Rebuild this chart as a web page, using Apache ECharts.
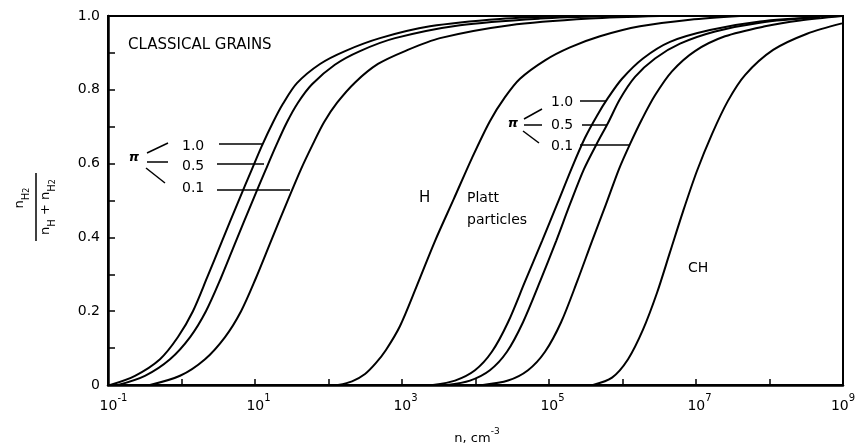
<!DOCTYPE html>
<html><head><meta charset="utf-8">
<script src="https://cdn.jsdelivr.net/npm/echarts@6/dist/echarts.min.js"></script>
<style>html,body{margin:0;padding:0;background:#fff}#c{width:855px;height:446px}</style>
</head><body><div id="c"></div>
<script>
const FONT = 'DejaVu Sans';
// x: density n (cm^-3), y: n_H2 / (n_H + n_H2)
const classicalPi10 = [[0.107,0],[0.233,0.025],[0.51,0.07],[0.895,0.13],[1.43,0.20],[2.22,0.29],[3.56,0.39],[5.87,0.495],[9.1,0.585],[12.4,0.648],[17.6,0.712],[24.0,0.762],[37.2,0.818],[76.6,0.87],[168,0.905],[502,0.94],[2400,0.972],[21500,0.992],[193000,1]];
const classicalPi05 = [[0.137,0],[0.318,0.025],[0.698,0.07],[1.31,0.13],[2.15,0.20],[3.44,0.29],[5.51,0.39],[9.1,0.495],[14.1,0.585],[19.3,0.648],[27.2,0.712],[38.4,0.765],[59.7,0.815],[122,0.868],[268,0.905],[804,0.94],[6150,0.975],[75400,0.993],[676000,1]];
const classicalPi01 = [[0.372,0],[0.955,0.025],[2.09,0.07],[3.91,0.13],[6.46,0.20],[10.3,0.29],[16.5,0.39],[27.2,0.495],[42.3,0.585],[59.7,0.648],[86.9,0.712],[131,0.765],[230,0.82],[471,0.87],[1100,0.905],[3290,0.94],[29400,0.975],[361000,0.993],[3.24e6,1]];
const hCurve = [[135,0],[209,0.01],[314,0.03],[443,0.06],[605,0.095],[940,0.16],[1600,0.27],[2810,0.39],[5090,0.505],[8950,0.615],[15700,0.715],[25200,0.78],[40300,0.83],[88300,0.88],[193000,0.915],[494000,0.945],[1.73e6,0.972],[8.28e6,0.99],[3.97e7,1]];
const plattPi10 = [[2640,0],[5260,0.012],[9840,0.04],[16700,0.09],[27700,0.17],[47100,0.28],[80300,0.39],[129000,0.49],[206000,0.59],[309000,0.67],[450000,0.73],[635000,0.778],[985000,0.83],[1.90e6,0.885],[4.43e6,0.93],[1.55e7,0.962],[7.43e7,0.985],[4.86e8,0.997]];
const plattPi05 = [[4090,0],[8410,0.012],[15700,0.04],[26800,0.09],[44300,0.17],[75400,0.28],[125000,0.39],[193000,0.49],[299000,0.585],[450000,0.655],[635000,0.71],[925000,0.775],[1.48e6,0.835],[2.77e6,0.885],[6.06e6,0.925],[1.82e7,0.958],[7.43e7,0.982],[4.86e8,0.997]];
const plattPi01 = [[12600,0],[27700,0.012],[51800,0.04],[88300,0.09],[146000,0.17],[241000,0.28],[385000,0.39],[597000,0.49],[896000,0.585],[1.26e6,0.652],[1.84e6,0.72],[2.77e6,0.785],[4.71e6,0.85],[9.69e6,0.905],[2.48e7,0.945],[8.69e7,0.972],[2.60e8,0.988],[9.69e8,1]];
const chCurve = [[397000,0],[720000,0.02],[1.19e6,0.07],[1.90e6,0.15],[2.95e6,0.25],[4.43e6,0.36],[6.65e6,0.47],[1.03e7,0.58],[1.65e7,0.68],[2.72e7,0.77],[4.64e7,0.84],[1.12e8,0.908],[3.24e8,0.952],[9.69e8,0.98]];

const xLabelExponents = [-1, 1, 3, 5, 7, 9];
const yTickLabels = ['0', '0.2', '0.4', '0.6', '0.8', '1.0'];
const piValues = ['1.0', '0.5', '0.1'];

const curves = [
  ['Classical π=1.0', classicalPi10], ['Classical π=0.5', classicalPi05], ['Classical π=0.1', classicalPi01],
  ['H', hCurve],
  ['Platt π=1.0', plattPi10], ['Platt π=0.5', plattPi05], ['Platt π=0.1', plattPi01],
  ['CH', chCurve]
];

function txt(x, y, text, extra) {
  return {type: 'text', x: x, y: y, silent: true, z: 10,
    style: Object.assign({text: text, fontFamily: FONT, fontSize: 14, fill: '#000',
      align: 'left', verticalAlign: 'middle', textAlign: 'left', textVerticalAlign: 'middle'}, extra || {})};
}
function ln(x1, y1, x2, y2, w) {
  return {type: 'line', silent: true, z: 10, shape: {x1: x1, y1: y1, x2: x2, y2: y2},
    style: {stroke: '#000', lineWidth: w || 1.5}};
}

const subRich = {
  n: {fontFamily: FONT, fontSize: 13, fill: '#000', color: '#000', lineHeight: 18, verticalAlign: 'top'},
  s: {fontFamily: FONT, fontSize: 10, fill: '#000', color: '#000', lineHeight: 10, verticalAlign: 'bottom'},
  ss: {fontFamily: FONT, fontSize: 8, fill: '#000', color: '#000', lineHeight: 8, verticalAlign: 'bottom'}
};

const graphics = [
  txt(128, 45, 'CLASSICAL GRAINS', {fontSize: 15}),
  // classical pi fan
  txt(134, 158, 'π', {fontSize: 13, fontWeight: 'bold', fontStyle: 'italic', align: 'center', textAlign: 'center'}),
  ln(147, 153, 168, 143), ln(147, 162, 168, 162), ln(146, 168, 165, 183),
  txt(182, 146, piValues[0]), txt(182, 166, piValues[1]), txt(182, 188, piValues[2]),
  ln(219, 144, 262, 144), ln(217, 164, 264, 164), ln(217, 190, 290, 190),
  // Platt pi fan
  txt(513, 124, 'π', {fontSize: 13, fontWeight: 'bold', fontStyle: 'italic', align: 'center', textAlign: 'center'}),
  ln(524, 119, 542, 109), ln(524, 125, 542, 125), ln(523, 131, 539, 143),
  txt(551, 102, piValues[0]), txt(551, 125, piValues[1]), txt(551, 146, piValues[2]),
  ln(580, 101, 606, 101), ln(582, 125, 607, 125), ln(580, 145, 629, 145),
  txt(419, 198, 'H', {fontSize: 15}),
  txt(467, 198, 'Platt', {fontSize: 14}),
  txt(467, 220, 'particles', {fontSize: 14}),
  txt(688, 268, 'CH', {fontSize: 14}),
  // x axis title
  {type: 'text', x: 477, y: 436, silent: true,
    style: {text: '{b|n, cm}{s|-3}', align: 'center', textAlign: 'center', verticalAlign: 'middle', textVerticalAlign: 'middle',
      rich: {b: {fontFamily: FONT, fontSize: 13, fill: '#000', color: '#000', lineHeight: 18, verticalAlign: 'bottom'},
             s: {fontFamily: FONT, fontSize: 9, fill: '#000', color: '#000', lineHeight: 9, verticalAlign: 'top'}}}},
  // y axis title (fraction, rotated)
  {type: 'group', x: 36, y: 207, rotation: Math.PI / 2, silent: true, children: [
    {type: 'line', shape: {x1: -34, y1: 0, x2: 34, y2: 0}, style: {stroke: '#000', lineWidth: 1.5}},
    {type: 'text', x: 9, y: -14, style: {text: '{n|n}{s|H}{ss|2}', align: 'center', textAlign: 'center',
      verticalAlign: 'middle', textVerticalAlign: 'middle', rich: subRich}},
    {type: 'text', x: 0, y: 12, style: {text: '{n|n}{s|H}{n| + n}{s|H}{ss|2}', align: 'center', textAlign: 'center',
      verticalAlign: 'middle', textVerticalAlign: 'middle', rich: subRich}}
  ]}
];

const chart = echarts.init(document.getElementById('c'), null, {renderer: 'canvas'});
chart.setOption({
  animation: false,
  backgroundColor: '#fff',
  grid: {left: 108, right: 12, top: 16, bottom: 61, containLabel: false, outerBoundsMode: 'none',
    show: true, borderColor: '#000', borderWidth: 2, backgroundColor: 'transparent'},
  xAxis: {
    type: 'log', logBase: 10, min: 0.1, max: 1e9, interval: 1,
    axisLine: {show: true, lineStyle: {color: '#000', width: 2.5}},
    axisTick: {show: true, inside: true, length: 6, lineStyle: {color: '#000', width: 1.5}},
    minorTick: {show: false},
    splitLine: {show: false},
    axisLabel: {
      margin: 8, color: '#000', hideOverlap: false,
      formatter: function (v) {
        const e = Math.round(Math.log10(v));
        if (xLabelExponents.indexOf(e) < 0) return '';
        const base = e < 0 ? '{b2|10}' : (e === xLabelExponents[xLabelExponents.length - 1] ? '{b0|10}' : '{b1|10}');
        return base + '{s|' + (e < 0 ? '-' + (-e) : e) + '}';
      },
      rich: {
        b0: {fontFamily: FONT, fontSize: 14, color: '#000', lineHeight: 20, verticalAlign: 'bottom'},
        b1: {fontFamily: FONT, fontSize: 14, color: '#000', lineHeight: 20, verticalAlign: 'bottom', padding: [0, 0, 0, 7]},
        b2: {fontFamily: FONT, fontSize: 14, color: '#000', lineHeight: 20, verticalAlign: 'bottom', padding: [0, 0, 0, 11]},
        s: {fontFamily: FONT, fontSize: 10, color: '#000', lineHeight: 10, verticalAlign: 'top'}
      }
    }
  },
  yAxis: {
    type: 'value', min: 0, max: 1, interval: 0.1,
    axisLine: {show: true, lineStyle: {color: '#000', width: 2.5}},
    axisTick: {show: true, inside: true, length: 7, lineStyle: {color: '#000', width: 1.5}},
    splitLine: {show: false},
    axisLabel: {
      margin: 8, color: '#000', fontFamily: FONT, fontSize: 14,
      formatter: function (v) {
        const k = Math.round(v * 10);
        if (k % 2) return '';
        return yTickLabels[k / 2];
      }
    }
  },
  series: curves.map(function (c) {
    return {name: c[0], type: 'line', data: c[1], showSymbol: false, symbol: 'none',
      smooth: 0.3, clip: true, silent: true,
      lineStyle: {color: '#000', width: 2}};
  }),
  graphic: graphics
});
</script>
</body></html>
